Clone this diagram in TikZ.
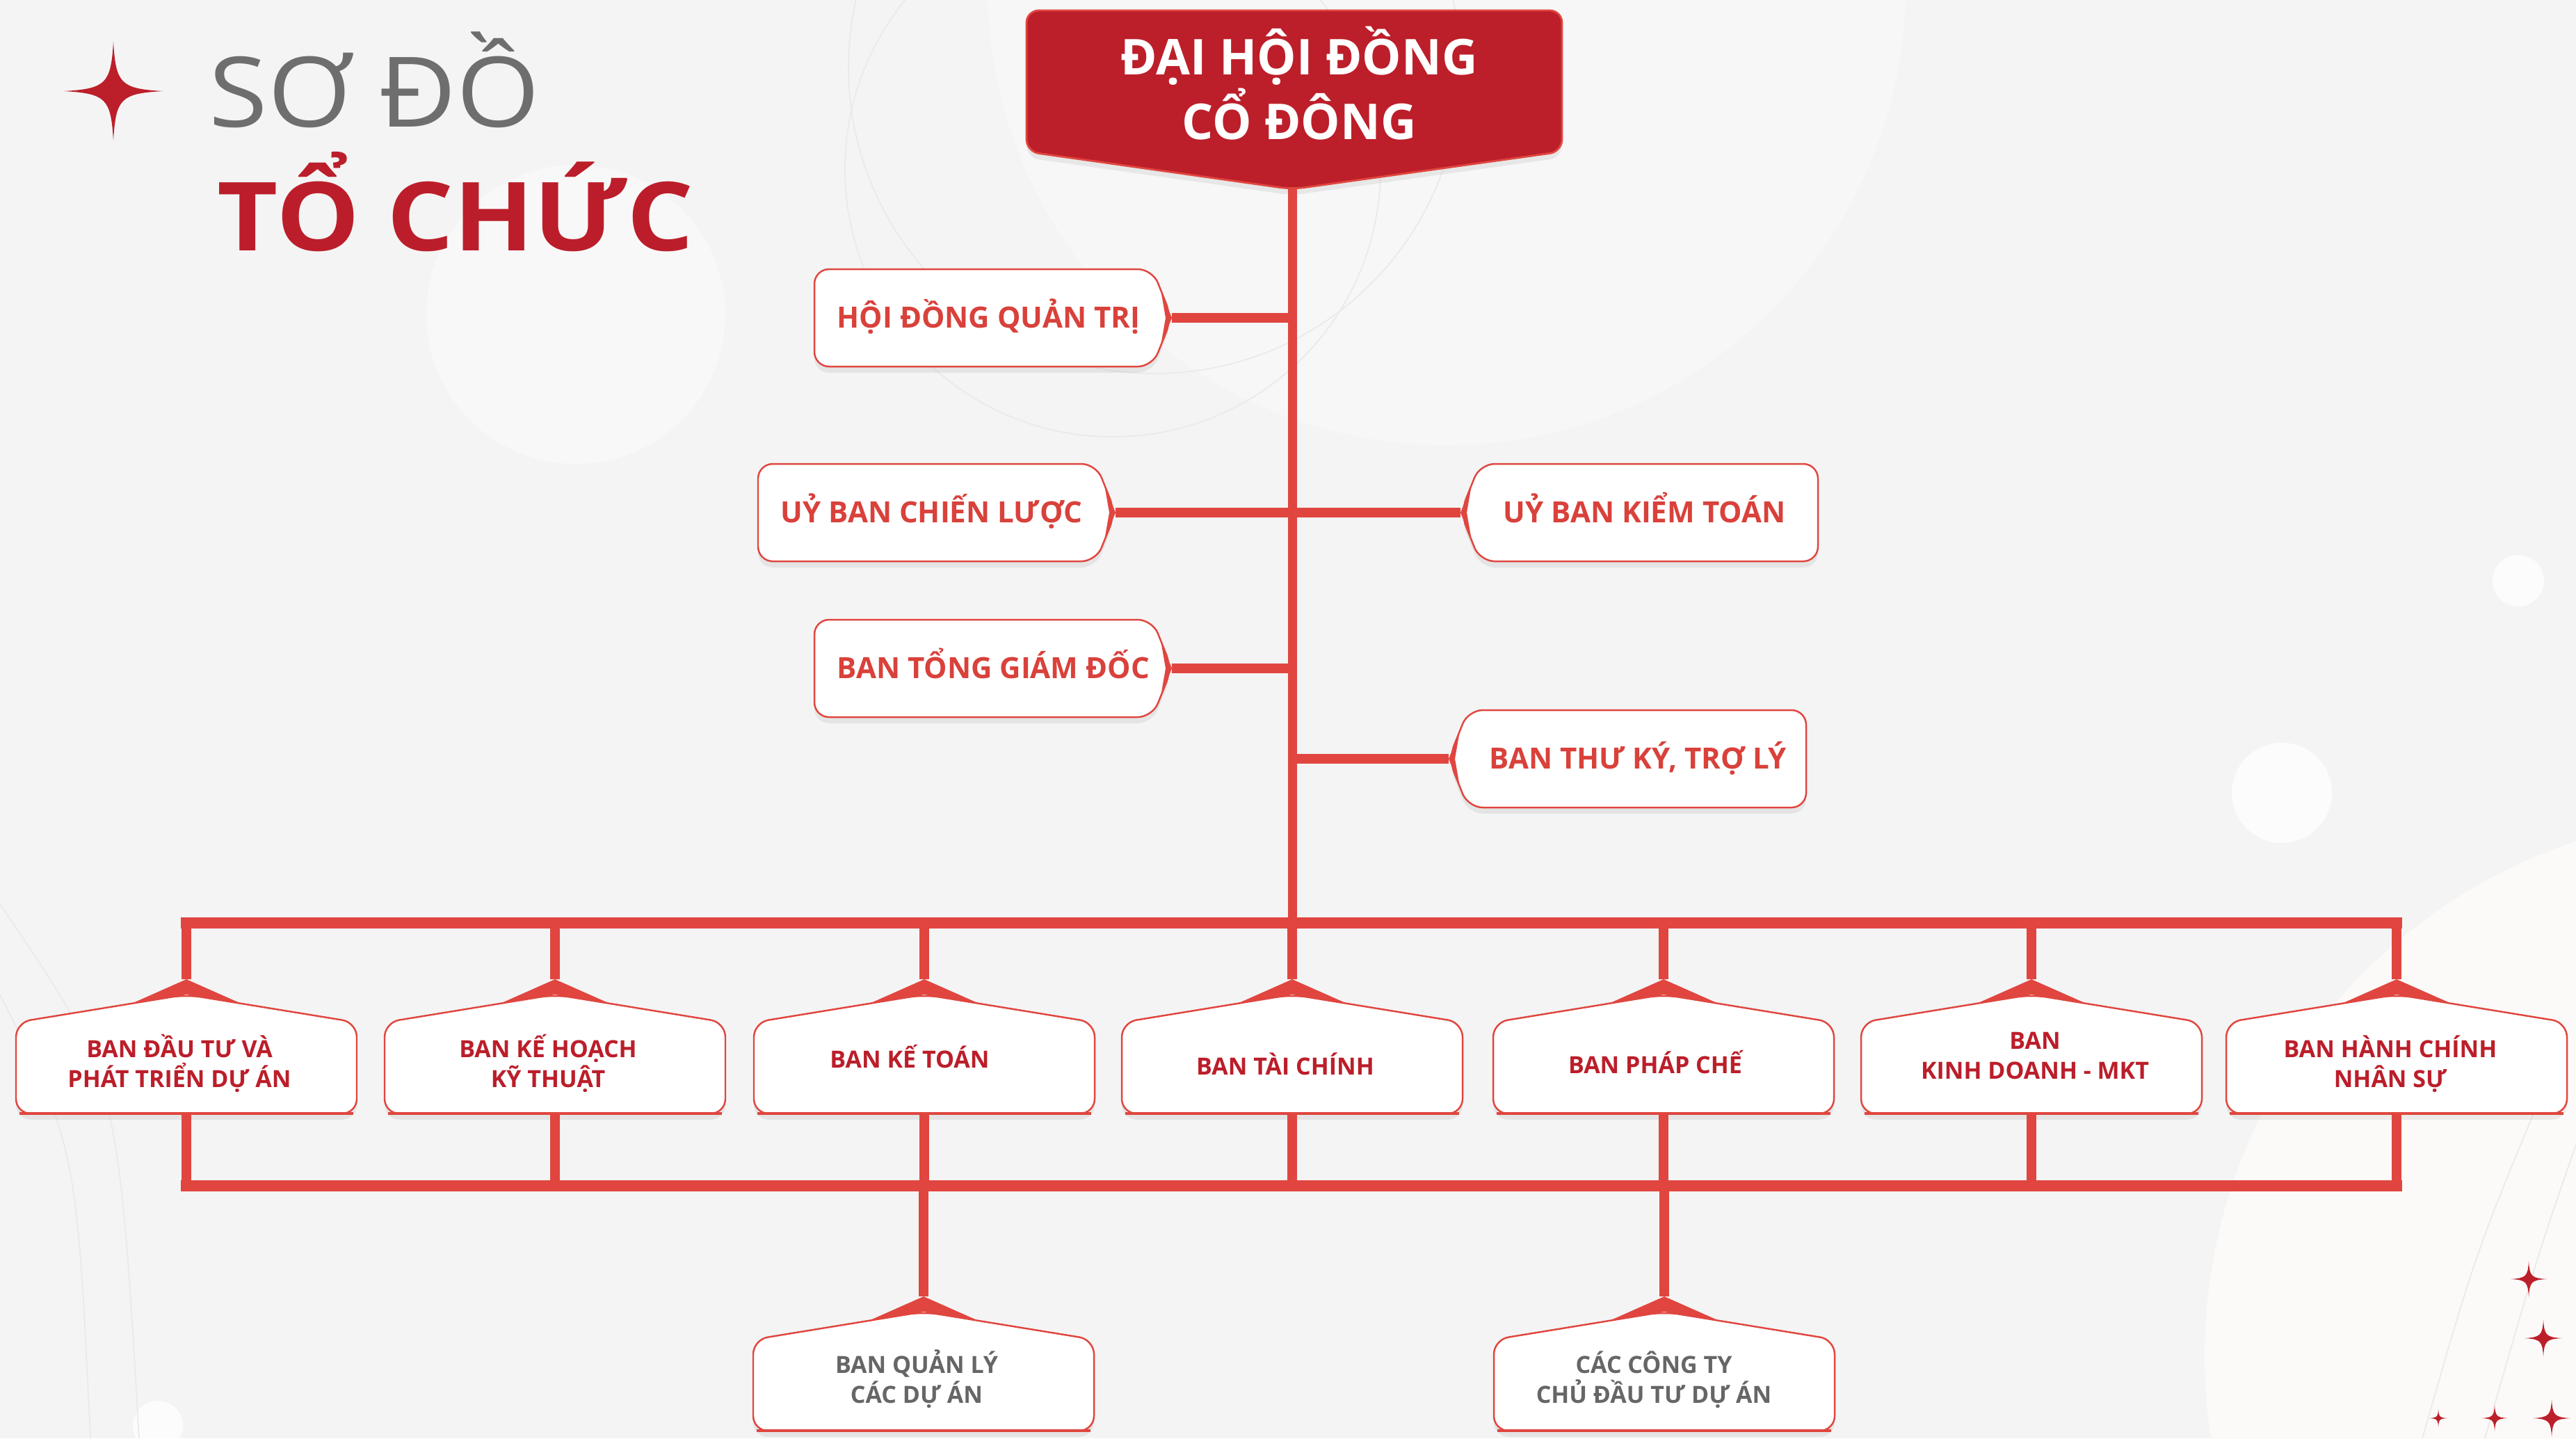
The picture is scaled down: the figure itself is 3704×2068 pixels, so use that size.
\documentclass[tikz,border=0pt]{standalone}
\usepackage{fontspec}
\setmainfont{Open Sans}
\newfontfamily\headfont[FakeStretch=1.1]{Open Sans}
\usetikzlibrary{shadows}

\definecolor{bgc}{HTML}{F4F4F4}
\definecolor{topred}{HTML}{BC1F2A}
\definecolor{linered}{HTML}{E0463F}
\definecolor{darkred}{HTML}{BB1E2A}
\definecolor{sidered}{HTML}{D9413B}
\definecolor{greytxt}{HTML}{666666}
\definecolor{titlegrey}{HTML}{6E6E6E}
\definecolor{cream}{HTML}{FCFAF8}
\definecolor{faintc}{HTML}{EAEAEA}

\begin{document}
\begin{tikzpicture}[x=0.01cm, y=-0.01cm,
    softshadow/.style={drop shadow={opacity=0.13, shadow xshift=0pt, shadow yshift=-2.5pt}},
    spine/.style={draw=linered, line width=1.3mm},
    conn/.style={draw=linered, line width=1.4mm},
    branch/.style={draw=linered, line width=1.4mm},
    bus/.style={draw=linered, line width=1.6mm, line cap=rect},
    boxframe/.style={draw=linered, line width=0.7pt, fill=white, rounded corners=6, softshadow},
    topbox/.style={draw=linered, line width=0.8pt, fill=topred, rounded corners=5, softshadow},
    faint/.style={draw=faintc, line width=0.5pt},
    toptext/.style={anchor=base, align=center, inner sep=0pt, text=white, font=\bfseries\fontsize{20.2}{25.04}\selectfont},
    sidetext/.style={anchor=base west, inner sep=0pt, text=sidered, font=\bfseries\fontsize{11.95}{14}\selectfont},
    unittext/.style={anchor=base, align=center, inner sep=0pt, text=darkred, font=\bfseries\fontsize{9.67}{12.23}\selectfont},
    subtext/.style={unittext, text=greytxt},
    sidebox/.pic={
        \draw[boxframe] (0,0) -- (-28,-70) -- (-514,-70) -- (-514,70) -- (-28,70) -- cycle;
        \fill[linered] (0,0) -- (-16,-40) -- (-9,0) -- (-16,40) -- cycle;
        \coordinate (-tip) at (0,0);
    },
    roofbox/.pic={
        \draw[boxframe] (0,0) -- (245,40) -- (245,171) -- (-245,171) -- (-245,40) -- cycle;
        \draw[linered, line width=1.2pt] (-240,171) -- (240,171);
        \fill[linered] (0,-22) -- (79,13) -- (0,0) -- (-79,13) -- cycle;
        \coordinate (-top) at (0,-22);
        \coordinate (-bot) at (0,171);
    },
    sparkle/.pic={
        \fill[topred] (0,-1) .. controls (0.05,-0.15) and (0.15,-0.05) .. (1,0)
            .. controls (0.15,0.05) and (0.05,0.15) .. (0,1)
            .. controls (-0.05,0.15) and (-0.15,0.05) .. (-1,0)
            .. controls (-0.15,-0.05) and (-0.05,-0.15) .. cycle;
    }]

    % Page and soft background shapes
    \useasboundingbox (0,0) rectangle (3704,2068);
    \begin{scope}
        \clip (0,0) rectangle (3704,2068);
        \fill[bgc] (0,0) rectangle (3704,2068);
        \fill[white, opacity=.35] (2080,-20) circle (660);
        \fill[white, opacity=.4] (828,452) circle (215);
        \fill[cream] (3950,1950) circle (780);
        \fill[white, opacity=.8] (3281,1140) circle (72);
        \fill[white, opacity=.8] (3621,835) circle (37);
        \fill[white, opacity=.8] (227,2050) circle (36);
        \draw[faint] (1600,243) circle (385);
        \draw[faint] (1660,97) circle (440);
        \draw[faint] (3483,2068) .. controls (3560,1800) .. (3660,1560);
        \draw[faint] (3573,2068) .. controls (3650,1800) .. (3720,1600);
        \draw[faint] (0,1300) .. controls (170,1550) .. (200,2068);
        \draw[faint] (0,1430) .. controls (110,1650) .. (130,2068);
    \end{scope}

    % Title
    \pic[scale=71] (star0) at (163,131) {sparkle};
    \node[anchor=base west, inner sep=0pt, text=titlegrey, font=\headfont\fontsize{39.8}{44}\selectfont] (sodo) at (300,182) {SƠ ĐỒ};
    \node[anchor=base west, inner sep=0pt, text=darkred, font=\headfont\bfseries\fontsize{39}{44}\selectfont] (tochuc) at (312,360) {TỔ CHỨC};

    % Top box
    \draw[topbox] (1476,15) -- (2246,15) -- (2246,218) -- (1858,272) -- (1476,218) -- cycle;
    \coordinate (dh-tip) at (1858,272);
    \node[toptext] (dhcd) at (1868,200) {ĐẠI HỘI ĐỒNG\\CỔ ĐÔNG};

    % Side boxes along the spine
    \pic (hdqt) at (1685,457) {sidebox};
    \pic (ubcl) at (1604,737) {sidebox};
    \pic[xscale=-1] (ubkt) at (2100,737) {sidebox};
    \pic (btgd) at (1685,961) {sidebox};
    \pic[xscale=-1] (btk) at (2083,1091) {sidebox};
    \node[sidetext] (hdqt-t) at (1203,471) {HỘI ĐỒNG QUẢN TRỊ};
    \node[sidetext] (ubcl-t) at (1122,751) {UỶ BAN CHIẾN LƯỢC};
    \node[sidetext] (ubkt-t) at (2161,751) {UỶ BAN KIỂM TOÁN};
    \node[sidetext] (btgd-t) at (1203,975) {BAN TỔNG GIÁM ĐỐC};
    \node[sidetext] (btk-t) at (2141,1105) {BAN THƯ KÝ, TRỢ LÝ};

    % Units
    \coordinate (topbus) at (1858,1327);
    \coordinate (lowbus) at (1858,1705);
    \pic (b1) at (268,1430) {roofbox};
    \pic (b2) at (798,1430) {roofbox};
    \pic (b3) at (1329,1430) {roofbox};
    \pic (b4) at (1858,1430) {roofbox};
    \pic (b5) at (2392,1430) {roofbox};
    \pic (b6) at (2921,1430) {roofbox};
    \pic (b7) at (3446,1430) {roofbox};
    \pic (q1) at (1328,1886) {roofbox};
    \pic (q2) at (2393,1886) {roofbox};

    \node[unittext] (b1-t) at (258,1563) {BAN ĐẦU TƯ VÀ\\PHÁT TRIỂN DỰ ÁN};
    \node[unittext] (b2-t) at (788,1563) {BAN KẾ HOẠCH\\KỸ THUẬT};
    \node[unittext] (b3-t) at (1308,1535) {BAN KẾ TOÁN};
    \node[unittext] (b4-t) at (1848,1545) {BAN TÀI CHÍNH};
    \node[unittext] (b5-t) at (2380,1543) {BAN PHÁP CHẾ};
    \node[unittext] (b6-t) at (2926,1551) {BAN\\KINH DOANH - MKT};
    \node[unittext] (b7-t) at (3437,1563) {BAN HÀNH CHÍNH\\NHÂN SỰ};
    \node[subtext] (q1-t) at (1318,2017) {BAN QUẢN LÝ\\CÁC DỰ ÁN};
    \node[subtext] (q2-t) at (2378,2017) {CÁC CÔNG TY\\CHỦ ĐẦU TƯ DỰ ÁN};

    % Connectors
    \draw[spine] (dh-tip) -- (dh-tip |- topbus);
    \draw[conn] (hdqt-tip) -- (hdqt-tip -| dh-tip);
    \draw[conn] (ubcl-tip) -- (ubkt-tip);
    \draw[conn] (btgd-tip) -- (btgd-tip -| dh-tip);
    \draw[conn] (dh-tip |- btk-tip) -- (btk-tip);
    \draw[bus] (b1-top |- topbus) -- (b7-top |- topbus);
    \draw[bus] (b1-bot |- lowbus) -- (b7-bot |- lowbus);
    \foreach \b in {b1,b2,b3,b4,b5,b6,b7} {
        \draw[branch] (\b-top |- topbus) -- (\b-top);
        \draw[branch] (\b-bot) -- (\b-bot |- lowbus);
    }
    \draw[branch] (q1-top |- lowbus) -- (q1-top);
    \draw[branch] (q2-top |- lowbus) -- (q2-top);

    % Corner sparkles
    \pic[scale=26] (star1) at (3636,1839) {sparkle};
    \pic[scale=27] (star2) at (3657,1924) {sparkle};
    \pic[scale=13] (star3) at (3506,2039) {sparkle};
    \pic[scale=19] (star4) at (3587,2039) {sparkle};
    \pic[scale=27] (star5) at (3669,2039) {sparkle};
\end{tikzpicture}
\end{document}
